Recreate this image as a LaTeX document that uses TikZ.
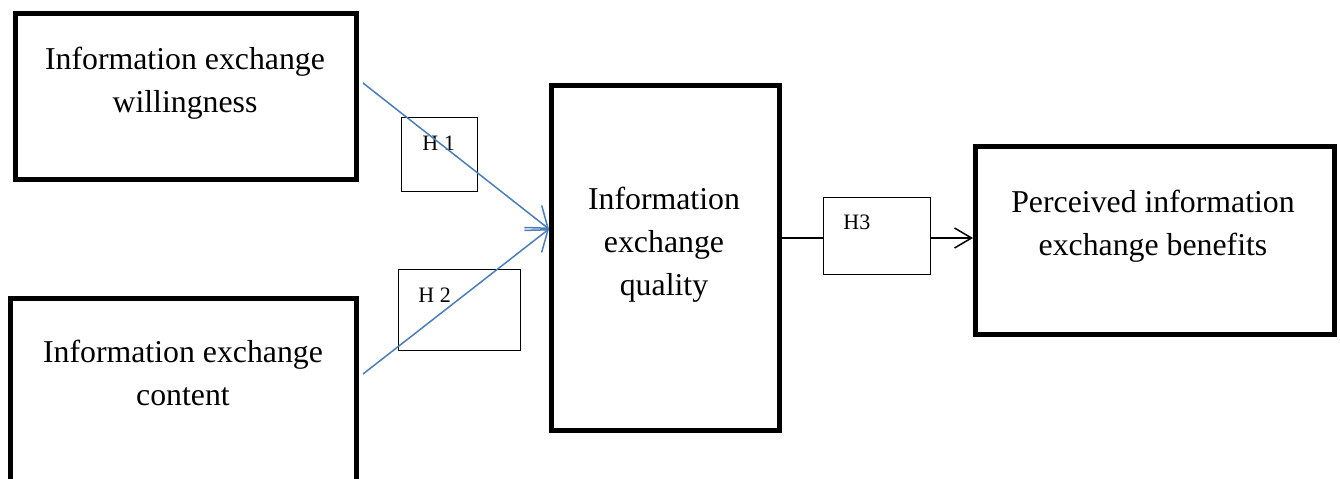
\documentclass[tikz,border=0pt]{standalone}
\usepackage{fontspec}
\setmainfont{Liberation Serif}
\usetikzlibrary{arrows.meta}
\definecolor{arrowblue}{RGB}{74,126,187}
\begin{document}
\begin{tikzpicture}[x=0.5pt,y=-0.5pt,
  bigbox/.style={draw=black,line width=2.5pt,inner sep=0pt},
  hbox/.style={draw=black,line width=0.5pt,inner sep=0pt},
  bigtext/.style={font=\fontsize{15.9}{21.5}\selectfont,align=center,inner sep=0pt,anchor=base},
  htext/.style={font=\fontsize{11}{13}\selectfont,inner sep=0pt,anchor=base west},
  bluearrow/.style={draw=arrowblue,line width=0.75pt,-{Straight Barb[length=9.5pt,width=14pt]}},
  blackarrow/.style={draw=black,line width=0.75pt,-{Straight Barb[length=8.5pt,width=10pt]}}]
\useasboundingbox (0,0) rectangle (1340,478);
% big boxes
\node[bigbox, minimum width=170.25pt, minimum height=83pt] (A) at (185.75,96) {};
\node[bigbox, minimum width=173pt, minimum height=101pt] (B) at (183,399) {};
\node[bigbox, minimum width=114pt, minimum height=172.5pt] (C) at (665,258) {};
\node[bigbox, minimum width=179.5pt, minimum height=94pt] (D) at (1154.5,240) {};
% texts (anchor = baseline of last line)
\node[bigtext] (tA) at (185,112) {Information exchange\\willingness};
\node[bigtext] (tB) at (183,405) {Information exchange\\content};
\node[bigtext] (tC) at (664,295) {Information\\exchange\\quality};
\node[bigtext] (tD) at (1153,255) {Perceived information\\exchange benefits};
% H boxes 1 and 2 (unfilled)
\node[hbox, minimum width=38pt, minimum height=37pt] (H1) at (439,154) {};
\node[hbox, minimum width=61pt, minimum height=40.5pt] (H2) at (459,309.5) {};
\node[htext] (tH1) at (422,150) {H 1};
\node[htext] (tH2) at (418,302) {H 2};
% connectors
\coordinate (s1) at (363,83);
\coordinate (s2) at (363,374);
\coordinate (tip) at (549,229);
\draw[bluearrow] (s1) -- (tip);
\draw[bluearrow] (s2) -- (tip);
\coordinate (cOut) at (C.east |- 0,238);
\coordinate (dIn) at (973,238);
\draw[blackarrow] (cOut) -- (dIn);
\node[hbox, fill=white, minimum width=53.5pt, minimum height=38.5pt] (H3) at (876.5,235.5) {};
\node[htext] (tH3) at (843,229) {H3};
\end{tikzpicture}
\end{document}
